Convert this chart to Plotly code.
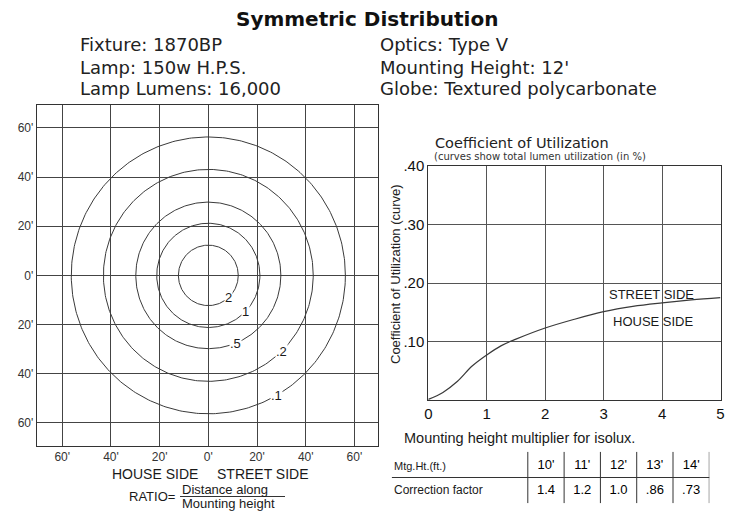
import numpy as np
import plotly.graph_objects as go

# The page body adds an 8px margin, so the figure fills the visible 727x504 area.
OFF = 8
W, H = 735 - OFF, 512 - OFF


def px(x):
    return (x - OFF) / W


def py(y):
    return 1 - (y - OFF) / H


# ---------------- data ----------------
# Isolux contours (footcandle levels) and their radii in feet
iso_levels = ["2", "1", ".5", ".2", ".1"]
iso_radius_ft = [12.3, 21.2, 29.8, 43.1, 56.3]
iso_label_angle_deg = [-47, -44, -68, -46, -60]

grid_ticks = [-60, -40, -20, 0, 20, 40, 60]
grid_tick_text = ["60'", "40'", "20'", "0'", "20'", "40'", "60'"]

# Coefficient of utilization curve
cu_ratio = [0, 0.25, 0.5, 0.75, 1, 1.25, 1.5, 2, 2.5, 3, 3.5, 4, 4.5, 5]
cu_value = [0.001, 0.013, 0.032, 0.058, 0.077, 0.093, 0.104, 0.123, 0.138,
            0.151, 0.160, 0.166, 0.171, 0.175]
cu_xticks = [0, 1, 2, 3, 4, 5]
cu_yticks = [0.1, 0.2, 0.3, 0.4]
cu_ytick_text = [".10", ".20", ".30", ".40"]

# Mounting height multiplier table
mtg_heights = ["10'", "11'", "12'", "13'", "14'"]
correction = ["1.4", "1.2", "1.0", ".86", ".73"]

header_left = ["Fixture: 1870BP", "Lamp: 150w H.P.S.", "Lamp Lumens: 16,000"]
header_right = ["Optics: Type V", "Mounting Height: 12'", "Globe: Textured polycarbonate"]

SANS = "Liberation Sans, Arial, sans-serif"
WIDE = "DejaVu Sans, sans-serif"
INK = "#1a1a1a"

fig = go.Figure()


def paper_text(x, y, text, size, family=SANS, xanchor="center", color=INK, **kw):
    fig.add_annotation(x=px(x), y=py(y), xref="paper", yref="paper", text=text,
                       xanchor=xanchor, yanchor="middle", showarrow=False,
                       font=dict(family=family, size=size, color=color), **kw)


# ---------------- isolux plot ----------------
theta = np.linspace(0, 2 * np.pi, 361)
for lvl, r in zip(iso_levels, iso_radius_ft):
    fig.add_trace(go.Scatter(
        x=r * np.cos(theta), y=r * np.sin(theta), mode="lines",
        line=dict(color="#3a3a3a", width=1), xaxis="x", yaxis="y",
        hoverinfo="skip", showlegend=False, name=lvl))

for lvl, r, a in zip(iso_levels, iso_radius_ft, iso_label_angle_deg):
    ang = np.deg2rad(a)
    fig.add_annotation(x=r * np.cos(ang), y=r * np.sin(ang), xref="x", yref="y",
                       text=lvl, showarrow=False, bgcolor="white", borderpad=0,
                       xanchor="center", yanchor="middle",
                       font=dict(family=SANS, size=13, color=INK))

# ---------------- CU curve ----------------
fig.add_trace(go.Scatter(
    x=cu_ratio, y=cu_value, mode="lines", line=dict(color="#3a3a3a", width=1.2, shape="spline"),
    xaxis="x2", yaxis="y2", hoverinfo="skip", showlegend=False))

fig.add_annotation(x=3.82, y=0.181, xref="x2", yref="y2", text="STREET SIDE",
                   xanchor="center", yanchor="middle",
                   showarrow=False, font=dict(family=SANS, size=13, color=INK))
fig.add_annotation(x=3.86, y=0.134, xref="x2", yref="y2", text="HOUSE SIDE",
                   xanchor="center", yanchor="middle",
                   showarrow=False, font=dict(family=SANS, size=13, color=INK))

# ---------------- table ----------------
col_x = [i + 0.5 for i in range(len(mtg_heights))]
fig.add_trace(go.Scatter(x=col_x, y=[1.45] * len(mtg_heights), text=mtg_heights, mode="text",
                         textfont=dict(family=SANS, size=13, color="#000"),
                         xaxis="x3", yaxis="y3", hoverinfo="skip", showlegend=False))
fig.add_trace(go.Scatter(x=col_x, y=[0.5] * len(correction), text=correction, mode="text",
                         textfont=dict(family=SANS, size=13, color="#000"),
                         xaxis="x3", yaxis="y3", hoverinfo="skip", showlegend=False))
fig.add_annotation(x=-3.75, y=1.45, xref="x3", yref="y3", text="Mtg.Ht.(ft.)",
                   xanchor="left", yanchor="middle", showarrow=False,
                   font=dict(family=SANS, size=11, color=INK))
fig.add_annotation(x=-3.75, y=0.5, xref="x3", yref="y3", text="Correction factor",
                   xanchor="left", yanchor="middle", showarrow=False,
                   font=dict(family=SANS, size=12, color=INK))
for i in range(len(mtg_heights) + 1):
    fig.add_shape(type="line", xref="x3", yref="y3", x0=i, x1=i, y0=0, y1=2,
                  line=dict(color="#333", width=1))
fig.add_shape(type="line", xref="x3", yref="y3", x0=-3.75, x1=5.05, y0=1, y1=1,
              line=dict(color="#333", width=1))

# ---------------- header text ----------------
paper_text(367, 19, "<b>Symmetric Distribution</b>", 20, family=WIDE, color="#111")
for i, (tl, tr) in enumerate(zip(header_left, header_right)):
    yy = [45, 67, 89][i]
    paper_text(78, yy, tl, 18, family=WIDE, xanchor="left", color="#222")
    paper_text(378, yy, tr, 18, family=WIDE, xanchor="left", color="#222")

# right chart titles
paper_text(433, 143, "Coefficient of Utilization", 14.5, family=WIDE, xanchor="left", color="#222")
paper_text(432, 156.5, "(curves show total lumen utilization (in %)", 10, family=WIDE,
           xanchor="left", color="#333")
paper_text(395, 274, "Coefficient of Utilization (curve)", 13, color="#222", textangle=-90)

# left chart bottom labels
paper_text(155, 474, "HOUSE SIDE", 14)
paper_text(263, 474, "STREET SIDE", 14)
paper_text(177, 496, "RATIO=", 13, xanchor="right")
paper_text(180, 489, "Distance along", 13, xanchor="left")
paper_text(180, 503, "Mounting height", 13, xanchor="left")
fig.add_shape(type="line", xref="paper", yref="paper", x0=px(180), x1=px(285),
              y0=py(496.5), y1=py(496.5), line=dict(color="#333", width=1))

# table caption
paper_text(402, 438, "Mounting height multiplier for isolux.", 14.5, xanchor="left")

# ---------------- layout ----------------
fig.update_layout(
    width=W, height=H, autosize=False,
    margin=dict(l=0, r=0, t=0, b=0, autoexpand=False),
    paper_bgcolor="white", plot_bgcolor="white",
    showlegend=False,
    xaxis=dict(domain=[px(36.7), px(378)], range=[-70.5, 69.7], anchor="y",
               tickvals=grid_ticks, ticktext=grid_tick_text, showgrid=True,
               gridcolor="#444", gridwidth=1, zeroline=False, showline=True, mirror=True,
               linecolor="#333", linewidth=1, ticks="", automargin=False,
               tickfont=dict(family=SANS, size=12, color="#333"), fixedrange=True),
    yaxis=dict(domain=[py(446), py(105)], range=[-69.4, 69.3], anchor="x",
               tickvals=grid_ticks, ticktext=grid_tick_text, showgrid=True,
               gridcolor="#444", gridwidth=1, zeroline=False, showline=True, mirror=True,
               linecolor="#333", linewidth=1, ticks="", automargin=False,
               tickfont=dict(family=SANS, size=12, color="#333"), fixedrange=True),
    xaxis2=dict(domain=[px(428.3), px(720.5)], range=[0, 5], anchor="y2",
                tickvals=cu_xticks, showgrid=True, gridcolor="#555", gridwidth=1,
                zeroline=False, showline=True, mirror=True, linecolor="#333", linewidth=1,
                ticks="", automargin=False,
                tickfont=dict(family=SANS, size=15, color="#111"), fixedrange=True),
    yaxis2=dict(domain=[py(400), py(166)], range=[0, 0.4], anchor="x2",
                tickvals=cu_yticks, ticktext=cu_ytick_text, showgrid=True, gridcolor="#555",
                gridwidth=1, zeroline=False, showline=True, mirror=True, linecolor="#333",
                linewidth=1, ticks="", automargin=False,
                tickfont=dict(family=SANS, size=15, color="#111"), fixedrange=True),
    xaxis3=dict(domain=[px(391.7), px(709.3)], range=[-3.75, 5], anchor="y3",
                visible=False, fixedrange=True),
    yaxis3=dict(domain=[py(503.3), py(451.7)], range=[0, 2], anchor="x3",
                visible=False, fixedrange=True),
)

fig.write_html("out.html")
